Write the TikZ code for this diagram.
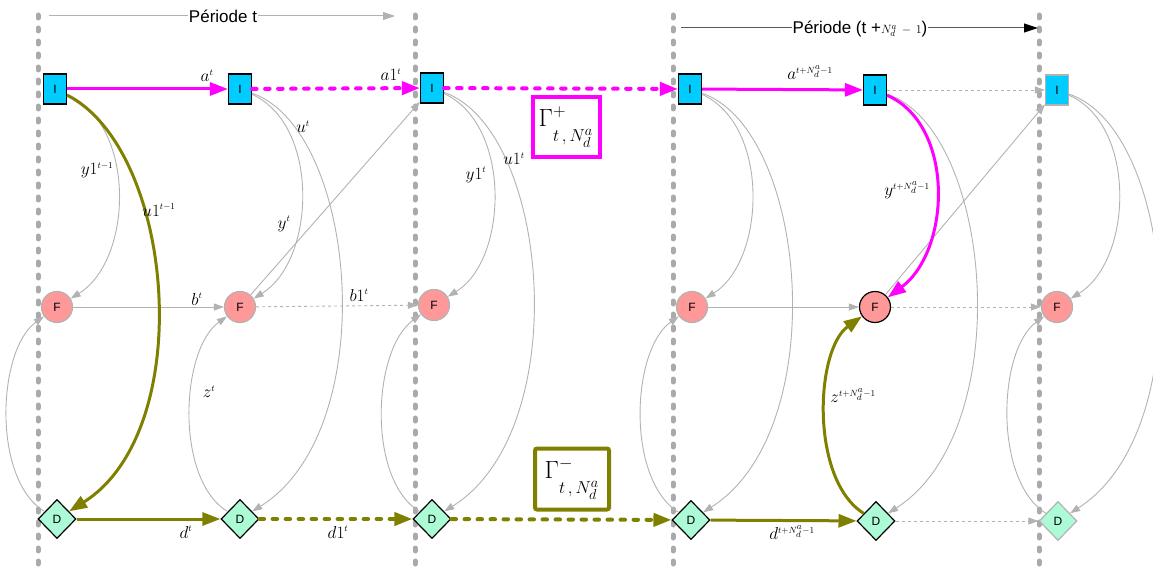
\documentclass[tikz,border=0pt]{standalone}
\usepackage{fontspec}
\setsansfont{Liberation Sans}
\usetikzlibrary{arrows.meta,shapes.geometric}
\definecolor{cyanI}{RGB}{0,204,255}
\definecolor{pinkF}{RGB}{255,153,153}
\definecolor{greenD}{RGB}{172,250,214}
\definecolor{lgray}{RGB}{178,178,178}
\definecolor{vgray}{RGB}{170,170,170}
\definecolor{olv}{RGB}{128,128,0}
\definecolor{mag}{RGB}{255,0,255}
\definecolor{dgray}{RGB}{90,90,90}
\newcommand{\gsub}{\lower9pt\hbox{\fontsize{19}{20}\selectfont$t\,,N^a_d$}}
\newcommand{\gsup}[1]{\raise1pt\hbox{\fontsize{18}{18}\selectfont$#1$}}
\begin{document}
\begin{tikzpicture}[x=1pt,y=-1pt,
  inode/.style={rectangle,draw=black,line width=1.2pt,fill=cyanI,minimum width=23pt,minimum height=30pt,inner sep=0pt,font=\sffamily\fontsize{12}{12}\selectfont},
  fnode/.style={circle,draw=lgray,line width=1.2pt,fill=pinkF,minimum size=31pt,inner sep=0pt,font=\sffamily\fontsize{12}{12}\selectfont},
  dnode/.style={diamond,draw=black,line width=1.2pt,fill=greenD,minimum width=38pt,minimum height=39pt,inner sep=0pt,font=\sffamily\fontsize{12}{12}\selectfont},
  vline/.style={vgray,line width=5pt,line cap=round,dash pattern=on 3pt off 10pt},
  garr/.style={lgray,line width=0.9pt,-{Triangle[length=10pt,width=7pt]}},
  gdash/.style={garr,dash pattern=on 3pt off 3pt},
  marr/.style={mag,line width=3pt,-{Triangle[length=18pt,width=13pt]}},
  mdash/.style={mag,line width=4pt,line cap=round,dash pattern=on 4.5pt off 8.5pt,-{Triangle[length=18pt,width=13pt]}},
  oarr/.style={olv,line width=3pt,-{Triangle[length=18pt,width=13pt]}},
  odash/.style={olv,line width=4pt,line cap=round,dash pattern=on 4.5pt off 8.5pt,-{Triangle[length=18pt,width=13pt]}},
  lbl/.style={font=\fontsize{18}{20}\selectfont,inner sep=0pt},
  per/.style={fill=white,inner sep=1pt,font=\sffamily\fontsize{17}{20}\selectfont},
  gbox/.style={line width=4pt,inner sep=0pt,font=\fontsize{34}{40}\selectfont}
]
\useasboundingbox (0,0) rectangle (1153,572);

% vertical period separators
\coordinate (v1t) at (38,15);  \coordinate (v1b) at (38,572);
\coordinate (v2t) at (415,15); \coordinate (v2b) at (415,572);
\coordinate (v3t) at (673,15); \coordinate (v3b) at (673,572);
\coordinate (v4t) at (1039,15);\coordinate (v4b) at (1039,572);
\foreach \v in {1,2,3,4} \draw[vline] (v\v t) -- (v\v b);

% period arrows
\coordinate (p1s) at (49,16); \coordinate (p1e) at (395,16);
\draw[lgray,line width=1pt,-{Triangle[length=12pt,width=8pt]}] (p1s) -- (p1e);
\node[per] (per1) at (223,16) {Période t};
\coordinate (p2s) at (681,28); \coordinate (p2e) at (1038,28);
\draw[dgray,line width=1pt,-{Triangle[length=14pt,width=9pt,color=black]}] (p2s) -- (p2e);
\node[per] (per2) at (860,29) {Période (t +{\fontsize{13}{14}\selectfont$N^a_d\,-\,1$})};

% nodes
\node[inode] (I1) at (55,89) {I};
\node[inode] (I2) at (240,89) {I};
\node[inode] (I3) at (432,88) {I};
\node[inode] (I4) at (690,89) {I};
\node[inode] (I5) at (875,90) {I};
\node[inode,draw=lgray] (I6) at (1057,90) {I};

\node[fnode] (F1) at (57,307) {F};
\node[fnode] (F2) at (240,307) {F};
\node[fnode] (F3) at (434,305) {F};
\node[fnode] (F4) at (692,307) {F};
\node[fnode,draw=black] (F5) at (875,307) {F};
\node[fnode] (F6) at (1057,307) {F};

\node[dnode] (D1) at (57,519) {D};
\node[dnode] (D2) at (240,519) {D};
\node[dnode] (D3) at (432,519) {D};
\node[dnode] (D4) at (691,520) {D};
\node[dnode] (D5) at (876,521) {D};
\node[dnode,draw=lgray] (D6) at (1058,521) {D};

% gamma boxes
\node[gbox,draw=mag,minimum width=67pt,minimum height=60pt] (gp) at (566,127) {$\Gamma^{\gsup{+}}_{\gsub}$};
\node[gbox,draw=olv,rounded corners=2pt,minimum width=74pt,minimum height=61pt] (gm) at (572,479) {$\Gamma^{\gsup{-}}_{\gsub}$};

% I -> F curves (gray)
\draw[garr] (I1) .. controls (137,125) and (133,260) .. (F1);
\draw[garr] (I2) .. controls (320,125) and (316,260) .. (F2);
\draw[garr] (I3) .. controls (512,125) and (508,260) .. (F3);
\draw[garr] (I4) .. controls (770,125) and (766,260) .. (F4);
\draw[garr] (I6) .. controls (1137,125) and (1133,260) .. (F6);
% I -> D curves (gray)
\draw[garr] (I2) .. controls (358,130) and (383,430) .. (D2);
\draw[garr] (I3) .. controls (550,130) and (575,430) .. (D3);
\draw[garr] (I4) .. controls (808,130) and (833,430) .. (D4);
\draw[garr] (I5) .. controls (993,130) and (1018,430) .. (D5);
\draw[garr] (I6) .. controls (1175,130) and (1200,430) .. (D6);
% D -> F curves (gray)
\draw[garr] (D1) .. controls (-8,480) and (-3,350) .. (F1);
\draw[garr] (D2) .. controls (175,480) and (180,350) .. (F2);
\draw[garr] (D3) .. controls (367,480) and (372,350) .. (F3);
\draw[garr] (D4) .. controls (626,480) and (631,350) .. (F4);
\draw[garr] (D6) .. controls (993,480) and (998,350) .. (F6);
% F -> I straight
\draw[garr] (F2) -- (I3);
\draw[garr] (F5) -- (I6);
% F chain
\draw[garr] (F1) -- (F2);
\draw[gdash] (F2) -- (F3);
\draw[garr] (F4) -- (F5);
\draw[gdash] (F5) -- (F6);
% gray dashed ends
\draw[gdash] (I5) -- (I6);
\draw[gdash] (D5) -- (D6);

% magenta chain
\draw[marr] (I1) -- (I2);
\draw[mdash] (I2) -- (I3);
\draw[mdash] (I3) -- (I4);
\draw[marr] (I4) -- (I5);
\draw[marr] (I5) .. controls (955,125) and (951,250) .. (F5);

% olive chain
\draw[oarr] (I1) .. controls (175,150) and (198,430) .. (D1);
\draw[oarr] (D1) -- (D2);
\draw[odash] (D2) -- (D3);
\draw[odash] (D3) -- (D4);
\draw[oarr] (D4) -- (D5);
\draw[oarr] (D5) .. controls (810,480) and (815,350) .. (F5);

% labels
\node[lbl] (la1) at (207,76) {$a^{\scriptscriptstyle t}$};
\node[lbl] (la2) at (391,75) {$a1^{\scriptscriptstyle t}$};
\node[lbl] (la3) at (810,73) {$a^{\scriptscriptstyle t+N_d^a-1}$};
\node[lbl] (lu1) at (303,127) {$u^{\scriptscriptstyle t}$};
\node[lbl] (ly1) at (97,170) {$y1^{\scriptscriptstyle t-1}$};
\node[lbl] (lu0) at (159,210) {$u1^{\scriptscriptstyle t-1}$};
\node[lbl] (ly2) at (284,224) {$y^{\scriptscriptstyle t}$};
\node[lbl] (lb1) at (197,299) {$b^{\scriptscriptstyle t}$};
\node[lbl] (lb2) at (359,295) {$b1^{\scriptscriptstyle t}$};
\node[lbl] (ly3) at (476,175) {$y1^{\scriptscriptstyle t}$};
\node[lbl] (lu3) at (514,159) {$u1^{\scriptscriptstyle t}$};
\node[lbl] (ly5) at (907,190) {$y^{\scriptscriptstyle t+N_d^a-1}$};
\node[lbl] (lz1) at (209,392) {$z^{\scriptscriptstyle t}$};
\node[lbl] (ld1) at (186,532) {$d^{\scriptscriptstyle t}$};
\node[lbl] (ld2) at (338,532) {$d1^{\scriptscriptstyle t}$};
\node[lbl] (lz5) at (853,396) {$z^{\scriptscriptstyle t+N_d^a-1}$};
\node[lbl] (ld5) at (792,533) {$d^{\scriptscriptstyle t+N_d^a-1}$};
\end{tikzpicture}
\end{document}
